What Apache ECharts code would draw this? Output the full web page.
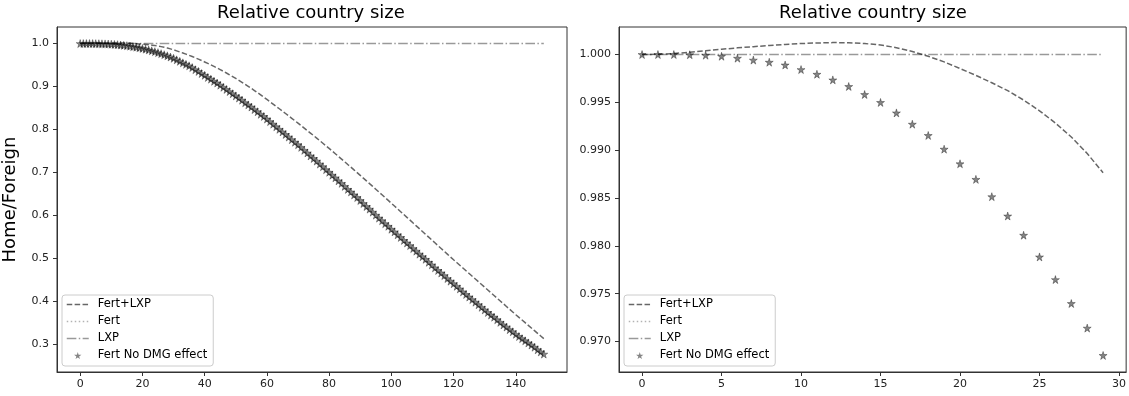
<!DOCTYPE html>
<html>
<head>
<meta charset="utf-8">
<script src="https://cdn.jsdelivr.net/npm/echarts@6/dist/echarts.min.js"></script>
<style>
html, body { margin: 0; padding: 0; background: #fff; }
#main { width: 1129px; height: 396px; }
</style>
</head>
<body>
<div id="main"></div>
<script>
var chartTitle = 'Relative country size';
var yName = 'Home/Foreign';
var seriesNames = ['Fert+LXP', 'Fert', 'LXP', 'Fert No DMG effect'];

// tick labels
var xTicksLong = [0, 20, 40, 60, 80, 100, 120, 140];
var yTicksLong = [0.3, 0.4, 0.5, 0.6, 0.7, 0.8, 0.9, 1.0];
var xTicksShort = [0, 5, 10, 15, 20, 25, 30];
var yTicksShort = [0.970, 0.975, 0.980, 0.985, 0.990, 0.995, 1.000];

// first 30 periods (right panel, also the start of the left one)
var fertLxpShort = [1.00000, 1.00003, 1.00010, 1.00025, 1.00040, 1.00055, 1.00070, 1.00082, 1.00095, 1.00106,
    1.00115, 1.00121, 1.00125, 1.00124, 1.00115, 1.00100, 1.00072, 1.00032, 0.99982, 0.99923,
    0.99854, 0.99782, 0.99705, 0.99622, 0.99524, 0.99412, 0.99284, 0.99138, 0.98966, 0.98764];
var noDmgShort = [1.00000, 1.00000, 1.00000, 0.99998, 0.99993, 0.99982, 0.99962, 0.99942, 0.99920, 0.99891,
    0.99843, 0.99794, 0.99735, 0.99666, 0.99582, 0.99499, 0.99390, 0.99272, 0.99154, 0.99011,
    0.98858, 0.98695, 0.98514, 0.98312, 0.98111, 0.97884, 0.97647, 0.97397, 0.97140, 0.96854];

// periods 30..149 (left panel only)
var fertLxpTail = [0.9854, 0.9830, 0.9805, 0.9780, 0.9753, 0.9725, 0.9697, 0.9667, 0.9636, 0.9604,
    0.9571, 0.9538, 0.9503, 0.9467, 0.9430, 0.9392, 0.9353, 0.9313, 0.9271, 0.9229,
    0.9186, 0.9142, 0.9097, 0.9050, 0.9003, 0.8955, 0.8905, 0.8855, 0.8803, 0.8750,
    0.8697, 0.8643, 0.8589, 0.8534, 0.8480, 0.8425, 0.8369, 0.8313, 0.8257, 0.8201,
    0.8145, 0.8087, 0.8029, 0.7971, 0.7913, 0.7855, 0.7795, 0.7735, 0.7675, 0.7615,
    0.7555, 0.7493, 0.7431, 0.7369, 0.7307, 0.7245, 0.7181, 0.7118, 0.7054, 0.6991,
    0.6927, 0.6862, 0.6798, 0.6733, 0.6669, 0.6604, 0.6539, 0.6474, 0.6408, 0.6343,
    0.6278, 0.6212, 0.6146, 0.6080, 0.6014, 0.5948, 0.5882, 0.5816, 0.5750, 0.5684,
    0.5618, 0.5552, 0.5486, 0.5420, 0.5354, 0.5288, 0.5222, 0.5156, 0.5090, 0.5024,
    0.4958, 0.4894, 0.4830, 0.4766, 0.4702, 0.4638, 0.4574, 0.4510, 0.4446, 0.4382,
    0.4318, 0.4254, 0.4190, 0.4126, 0.4062, 0.3998, 0.3934, 0.3870, 0.3806, 0.3742,
    0.3678, 0.3616, 0.3554, 0.3492, 0.3430, 0.3368, 0.3306, 0.3244, 0.3182, 0.3120];
var noDmgTail = [0.9655, 0.962, 0.9585, 0.955, 0.9515, 0.948, 0.944, 0.939, 0.935, 0.930,
    0.926, 0.921, 0.917, 0.912, 0.908, 0.903, 0.898, 0.893, 0.888, 0.883,
    0.878, 0.873, 0.868, 0.862, 0.857, 0.852, 0.846, 0.841, 0.835, 0.830,
    0.824, 0.818, 0.812, 0.806, 0.800, 0.794, 0.788, 0.782, 0.776, 0.770,
    0.764, 0.758, 0.751, 0.745, 0.738, 0.732, 0.726, 0.719, 0.713, 0.706,
    0.700, 0.693, 0.687, 0.680, 0.674, 0.667, 0.660, 0.654, 0.647, 0.641,
    0.634, 0.627, 0.620, 0.614, 0.607, 0.600, 0.593, 0.587, 0.580, 0.574,
    0.567, 0.561, 0.554, 0.548, 0.541, 0.535, 0.529, 0.522, 0.516, 0.509,
    0.503, 0.497, 0.490, 0.484, 0.477, 0.471, 0.465, 0.459, 0.452, 0.446,
    0.440, 0.434, 0.428, 0.421, 0.415, 0.409, 0.403, 0.397, 0.391, 0.385,
    0.379, 0.373, 0.367, 0.362, 0.356, 0.350, 0.344, 0.339, 0.333, 0.328,
    0.322, 0.317, 0.312, 0.307, 0.302, 0.297, 0.292, 0.286, 0.281, 0.276];

var fertLxpLong = fertLxpShort.concat(fertLxpTail);
var noDmgLong = noDmgShort.concat(noDmgTail);
// LXP stays flat at 1 in both runs; the dotted Fert line is not visible anywhere
var lxpLevel = 1.0;
var fertLong = [];
var fertShort = [];

var font = 'DejaVu Sans, Liberation Sans, sans-serif';
var starPath = 'path://M50,0 L61,35 L98,35 L68,57 L79,91 L50,70 L21,91 L32,57 L2,35 L39,35 Z';

function pairs(vals) {
    return vals.map(function (v, i) { return [i, v]; });
}
function flat(n) {
    var out = [];
    for (var i = 0; i < n; i++) out.push([i, lxpLevel]);
    return out;
}

function panelSeries(k, fertLxp, fert, noDmg) {
    return [{
        name: 'Fert+LXP', type: 'line', xAxisIndex: k, yAxisIndex: k,
        data: pairs(fertLxp), symbol: 'none',
        lineStyle: { color: 'rgba(0,0,0,0.6)', width: 1.5, type: [5.5, 2.4] },
        itemStyle: { color: 'rgba(0,0,0,0.6)' }
    }, {
        name: 'Fert', type: 'line', xAxisIndex: k, yAxisIndex: k,
        data: pairs(fert), symbol: 'none',
        lineStyle: { color: 'rgba(0,0,0,0.3)', width: 1.5, type: [1.5, 2.5] },
        itemStyle: { color: 'rgba(0,0,0,0.3)' }
    }, {
        name: 'LXP', type: 'line', xAxisIndex: k, yAxisIndex: k,
        data: flat(noDmg.length), symbol: 'none',
        lineStyle: { color: 'rgba(0,0,0,0.4)', width: 1.5, type: [9.6, 2.4, 1.5, 2.4] },
        itemStyle: { color: 'rgba(0,0,0,0.4)' }
    }, {
        name: 'Fert No DMG effect', type: 'scatter', xAxisIndex: k, yAxisIndex: k,
        data: pairs(noDmg), symbol: starPath, symbolSize: 8,
        itemStyle: { color: 'rgba(0,0,0,0.6)', borderColor: 'rgba(0,0,0,0.6)', borderWidth: 0.7 }
    }];
}

function xAxis(k, min, max, ticks) {
    return {
        type: 'value', gridIndex: k, min: min, max: max,
        splitLine: { show: false },
        axisLine: { show: true, onZero: false, lineStyle: { color: '#333', width: 1 } },
        axisTick: { show: true, length: 4, customValues: ticks, lineStyle: { color: '#333' } },
        axisLabel: { customValues: ticks, margin: 7, color: '#222', fontFamily: font, fontSize: 11 }
    };
}
function yAxis(k, min, max, ticks, digits, name) {
    return {
        type: 'value', gridIndex: k, min: min, max: max,
        name: name || '', nameLocation: 'middle', nameGap: 38, nameRotate: 90,
        nameTextStyle: { fontFamily: font, fontSize: 18, color: '#000' },
        splitLine: { show: false },
        axisLine: { show: true, onZero: false, lineStyle: { color: '#333', width: 1 } },
        axisTick: { show: true, length: 4, customValues: ticks, lineStyle: { color: '#333' } },
        axisLabel: {
            customValues: ticks, margin: 8, color: '#222', fontFamily: font, fontSize: 11,
            formatter: function (v) { return v.toFixed(digits); }
        }
    };
}
function legend(left) {
    return {
        orient: 'vertical', left: left, top: 295,
        data: seriesNames.map(function (n) {
            if (n === 'Fert No DMG effect') {
                return { name: n, icon: starPath, itemStyle: { borderWidth: 0 } };
            }
            return { name: n, itemStyle: { opacity: 0 } };
        }),
        itemWidth: 22, itemHeight: 7, itemGap: 4,
        symbolKeepAspect: true,
        padding: [3, 6, 4, 4],
        backgroundColor: 'rgba(255,255,255,0.8)', borderColor: '#ccc', borderWidth: 1, borderRadius: 3,
        lineStyle: { width: 1.5 },
        textStyle: { fontFamily: font, fontSize: 11.5, lineHeight: 13, color: '#000', padding: [0, 0, 0, 4] },
        selectedMode: false
    };
}

var myChart = echarts.init(document.getElementById('main'));

var option = {
    animation: false,
    backgroundColor: '#fff',
    title: [{
        text: chartTitle, left: 311, top: 4, textAlign: 'center', padding: 0,
        textStyle: { fontFamily: font, fontSize: 18, fontWeight: 'normal', color: '#000' }
    }, {
        text: chartTitle, left: 873, top: 4, textAlign: 'center', padding: 0,
        textStyle: { fontFamily: font, fontSize: 18, fontWeight: 'normal', color: '#000' }
    }],
    grid: [
        { left: 56, top: 27, width: 511, height: 345, show: true, borderColor: '#333', borderWidth: 1 },
        { left: 619, top: 27, width: 508, height: 345, show: true, borderColor: '#333', borderWidth: 1 }
    ],
    xAxis: [
        xAxis(0, -7.45, 156.45, xTicksLong),
        xAxis(1, -1.45, 30.45, xTicksShort)
    ],
    yAxis: [
        yAxis(0, 0.2342, 1.0386, yTicksLong, 1, yName),
        yAxis(1, 0.96681, 1.00288, yTicksShort, 3)
    ],
    legend: [legend(62), legend(624)],
    series: panelSeries(0, fertLxpLong, fertLong, noDmgLong)
        .concat(panelSeries(1, fertLxpShort, fertShort, noDmgShort))
};

myChart.setOption(option);
</script>
</body>
</html>
